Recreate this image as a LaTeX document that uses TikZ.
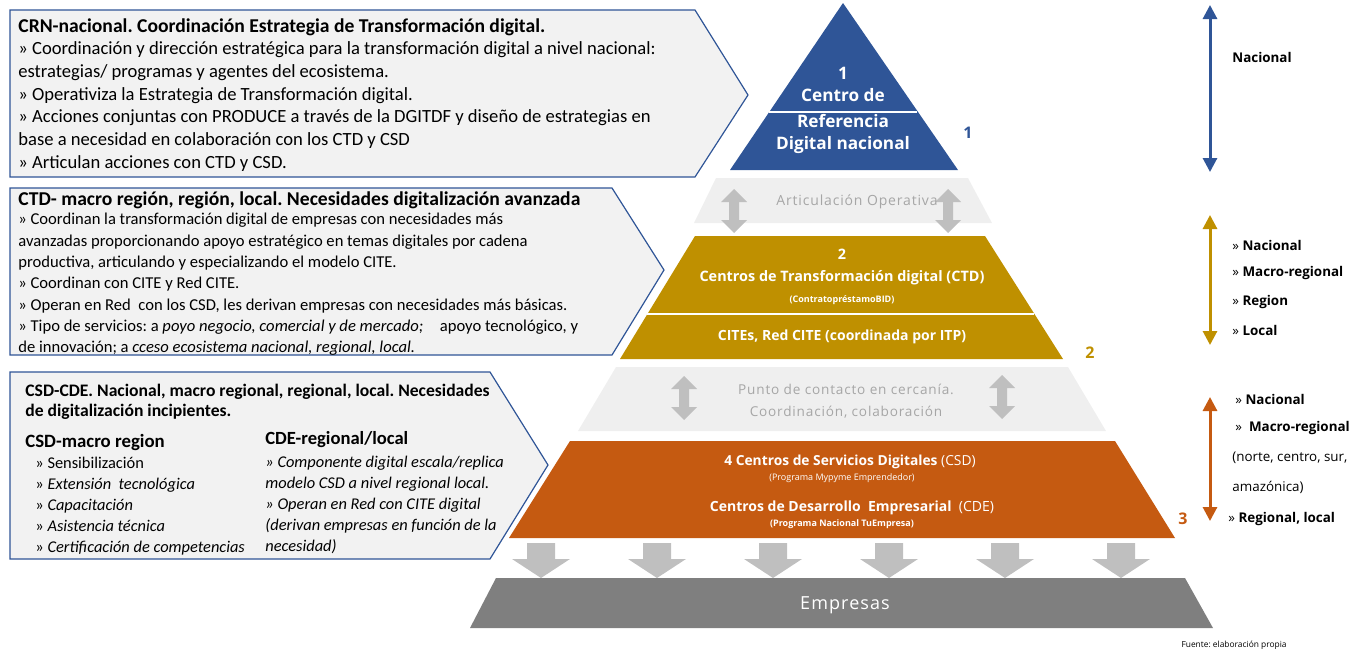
\documentclass[tikz,border=0pt]{standalone}
\usepackage{fontspec}
\setmainfont{Carlito}
\newfontfamily\segoe{Open Sans}
\newfontfamily\segoewide[LetterSpace=6]{Open Sans}
\usetikzlibrary{positioning,arrows.meta}
\frenchspacing

\definecolor{crnblue}{HTML}{2F5597}
\definecolor{ctdgold}{HTML}{BF9000}
\definecolor{csdorange}{HTML}{C55A11}
\definecolor{bandgray}{HTML}{EFEFEF}
\definecolor{boxgray}{HTML}{F2F2F2}
\definecolor{arrowgray}{HTML}{BFBFBF}
\definecolor{empgray}{HTML}{7F7F7F}
\definecolor{bandtext}{HTML}{A6A6A6}

\tikzstyle{infobox} = [draw=crnblue, fill=boxgray, line width=0.6pt]
\tikzstyle{boxtext} = [anchor=north west, align=left, inner sep=0pt, text=black]
\tikzstyle{levellabel} = [text=white, align=center, inner sep=0pt]
\tikzstyle{bandlabel} = [text=bandtext, align=center, inner sep=0pt]
\tikzstyle{scopelabel} = [anchor=west, inner sep=0pt, font=\segoe\fontsize{6.7}{7}\selectfont]
\tikzstyle{scopearrow} = [line width=1.5pt, {Triangle[width=7pt,length=7pt]}-{Triangle[width=7pt,length=7pt]}]
\tikzset{
  pics/updown/.style={code={
    \fill[arrowgray] (0,-22) -- (13,-9) -- (5,-9) -- (5,9) -- (13,9) -- (0,22)
      -- (-13,9) -- (-5,9) -- (-5,-9) -- (-13,-9) -- cycle;}},
  pics/downblock/.style={code={
    \fill[arrowgray] (-14,0) -- (14,0) -- (14,16) -- (29,16) -- (0,35)
      -- (-29,16) -- (-14,16) -- cycle;}}
}

\begin{document}
\begin{tikzpicture}[x=0.5pt, y=-0.5pt]
    \useasboundingbox (0,0) rectangle (1361,653);

    % Info boxes
    \draw[infobox] (10,10) -- (695,10) -- (748,95) -- (695,177) -- (10,177) -- cycle;
    \draw[infobox] (10,188) -- (612,188) -- (664,270) -- (612,355) -- (10,355) -- cycle;
    \draw[infobox] (10,372) -- (490,372) -- (548,465) -- (490,559) -- (10,559) -- cycle;

    \node[boxtext, font=\fontsize{9.3}{11.35}\selectfont] (crntext) at (18,18) {%
      {\bfseries\fontsize{9.8}{11.35}\selectfont CRN-nacional. Coordinación Estrategia de Transformación digital.}\\
      » Coordinación y dirección estratégica para la transformación digital a nivel nacional:\\
      estrategias/ programas y agentes del ecosistema.\\
      » Operativiza la Estrategia de Transformación digital.\\
      » Acciones conjuntas con PRODUCE a través de la DGITDF y diseño de estrategias en\\
      base a necesidad en colaboración con los CTD y CSD\\
      » Articulan acciones con CTD y CSD.};

    \node[boxtext, anchor=west, font=\bfseries\fontsize{9.8}{10}\selectfont] (ctdhead) at (18,200)
      {CTD- macro región, región, local. Necesidades digitalización avanzada};
    \node[boxtext, font=\fontsize{8.3}{10.65}\selectfont] (ctdtext) at (18,213) {%
      » Coordinan la transformación digital de empresas con necesidades más\\
      avanzadas proporcionando apoyo estratégico en temas digitales por cadena\\
      productiva, articulando y especializando el modelo CITE.\\
      » Coordinan con CITE y Red CITE.\\
      » Operan en Red\ \ con los CSD, les derivan empresas con necesidades más básicas.\\
      » Tipo de servicios: a \textit{poyo negocio, comercial y de mercado;}\quad apoyo tecnológico, y\\
      de innovación; a \textit{cceso ecosistema nacional, regional, local.}};

    \node[boxtext, font=\bfseries\fontsize{8.8}{10}\selectfont] (csdhead) at (25,384) {%
      CSD-CDE. Nacional, macro regional, regional, local. Necesidades\\
      de digitalización incipientes.};
    \node[boxtext, anchor=west, font=\bfseries\fontsize{9.4}{10}\selectfont] (csdsub) at (25,442) {CSD-macro region};
    \node[boxtext, anchor=west, font=\bfseries\fontsize{9.3}{10}\selectfont] (cdesub) at (265,440) {CDE-regional/local};
    \node[boxtext, font=\fontsize{8.2}{10.5}\selectfont] (csdlist) at (35,457) {%
      » Sensibilización\\
      » \textit{Extensión\ \ tecnológica}\\
      » \textit{Capacitación}\\
      » \textit{Asistencia técnica}\\
      » \textit{Certificación de competencias}};
    \node[boxtext, font=\itshape\fontsize{8.2}{10.5}\selectfont] (cdelist) at (265,456) {%
      » Componente digital escala/replica\\
      modelo CSD a nivel regional local.\\
      » Operan en Red con CITE digital\\
      (derivan empresas en función de la\\
      necesidad)};

    % Pyramid levels
    \fill[crnblue] (843,3) -- (958,170) -- (730,170) -- cycle;
    \draw[white, line width=0.8pt] (769,112) -- (917,112);
    \fill[bandgray] (716,178) -- (968,178) -- (992,223) -- (694,223) -- cycle;
    \fill[ctdgold] (695,236) -- (985,236) -- (1063,359) -- (620,359) -- cycle;
    \draw[white, line width=0.8pt] (647,314) -- (1034,314);
    \fill[bandgray] (616,367) -- (1068,367) -- (1106,431) -- (578,431) -- cycle;
    \fill[csdorange] (570,441) -- (1115,441) -- (1175,538) -- (509,538) -- cycle;
    \fill[empgray] (496,578) -- (1185,578) -- (1213,628) -- (470,628) -- cycle;

    \foreach \x in {541,657,773,889,1005,1121}
      \pic at (\x,543) {downblock};
    \pic at (734,211) {updown};
    \pic at (948,211) {updown};
    \pic at (684,398) {updown};
    \pic at (1002,397) {updown};

    % Place nodes
    \node[levellabel, font=\segoe\bfseries\fontsize{8.6}{11}\selectfont] (crnnum) at (843,84) {1\\Centro de};
    \node[levellabel, font=\segoe\bfseries\fontsize{8.6}{11}\selectfont] (crnname) at (843,134) {Referencia\\Digital nacional};
    \node[bandlabel, font=\segoewide\fontsize{7}{8}\selectfont] (artic) at (857,202) {Articulación Operativa};
    \node[levellabel, font=\segoe\bfseries\fontsize{7.2}{11}\selectfont] (ctdname) at (842,267) {2\\Centros de Transformación digital (CTD)};
    \node[levellabel, font=\segoe\bfseries\fontsize{4.5}{5}\selectfont] (ctdloan) at (842,300) {(ContratopréstamoBID)};
    \node[levellabel, font=\segoe\bfseries\fontsize{7}{8}\selectfont] (cites) at (842,337) {CITEs, Red CITE (coordinada por ITP)};
    \node[bandlabel, font=\segoewide\fontsize{6.8}{11}\selectfont] (contact) at (846,401) {Punto de contacto en cercanía.\\Coordinación, colaboración};
    \node[levellabel, font=\segoe\fontsize{6.9}{8}\selectfont] (csdname) at (850,462) {\textbf{4 Centros de Servicios Digitales} (CSD)};
    \node[levellabel, font=\segoe\fontsize{4.5}{5}\selectfont] (csdprog) at (842,478) {(Programa Mypyme Emprendedor)};
    \node[levellabel, font=\segoe\fontsize{7}{8}\selectfont] (cdename) at (852,508) {\textbf{Centros de Desarrollo\ \ Empresarial}\ \ (CDE)};
    \node[levellabel, font=\segoe\bfseries\fontsize{4.5}{5}\selectfont] (cdeprog) at (842,524) {(Programa Nacional TuEmpresa)};
    \node[levellabel, font=\segoewide\fontsize{9}{10}\selectfont] (empresas) at (845,605) {Empresas};

    \node[font=\segoe\bfseries\fontsize{8}{9}\selectfont, text=crnblue, inner sep=0pt] (lvlone) at (968,133) {1};
    \node[font=\segoe\bfseries\fontsize{8}{9}\selectfont, text=ctdgold, inner sep=0pt] (lvltwo) at (1090,353) {2};
    \node[font=\segoe\bfseries\fontsize{8}{9}\selectfont, text=csdorange, inner sep=0pt] (lvlthree) at (1183,519) {3};

    % Scope arrows
    \coordinate (crntop) at (1210,5);
    \coordinate (crnbot) at (1210,172);
    \coordinate (ctdtop) at (1210,215);
    \coordinate (ctdbot) at (1210,345);
    \coordinate (csdtop) at (1210,397);
    \coordinate (csdbot) at (1210,521);
    \draw[scopearrow, crnblue] (crntop) -- (crnbot);
    \draw[scopearrow, ctdgold] (ctdtop) -- (ctdbot);
    \draw[scopearrow, csdorange] (csdtop) -- (csdbot);

    \node[scopelabel] (sc1) at (1232,57) {\bfseries Nacional};
    \node[scopelabel] (sc2) at (1232,245) {» \textbf{Nacional}};
    \node[scopelabel] (sc3) at (1232,273) {» \textbf{Macro-regional}};
    \node[scopelabel] (sc4) at (1232,302) {» \textbf{Region}};
    \node[scopelabel] (sc5) at (1232,330) {» \textbf{Local}};
    \node[scopelabel] (sc6) at (1235,399) {» \textbf{Nacional}};
    \node[scopelabel] (sc7) at (1235,428) {»\ \ \textbf{Macro-regional}};
    \node[scopelabel] (sc8) at (1232,458) {(norte, centro, sur,};
    \node[scopelabel] (sc9) at (1232,487) {amazónica)};
    \node[scopelabel] (sc10) at (1228,519) {» \textbf{Regional, local}};

    \node[anchor=east, inner sep=0pt, font=\segoe\fontsize{4.2}{5}\selectfont] (fuente) at (1287,645) {Fuente: elaboración propia};
\end{tikzpicture}
\end{document}
